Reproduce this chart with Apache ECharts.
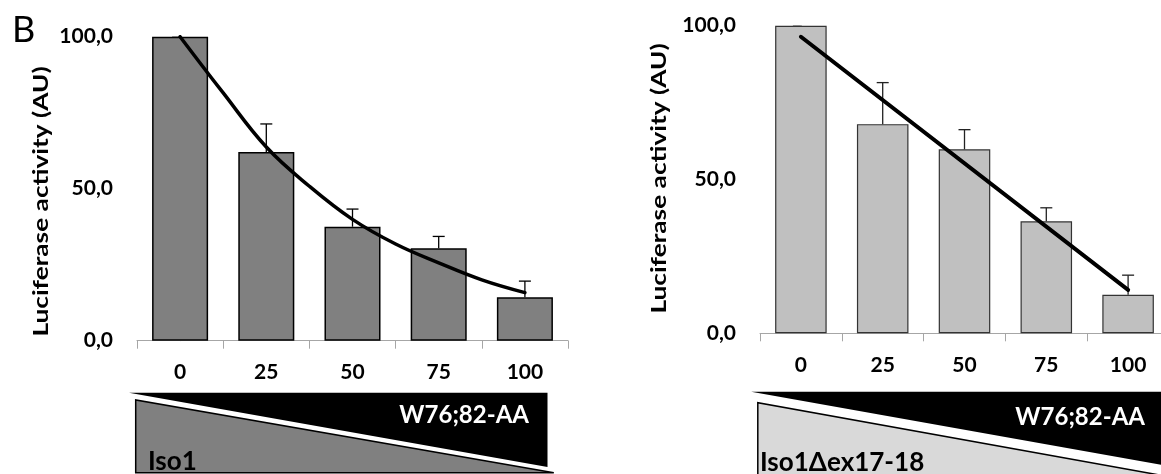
<!DOCTYPE html>
<html>
<head>
<meta charset="utf-8">
<script src="https://cdn.jsdelivr.net/npm/echarts@6/dist/echarts.min.js"></script>
<style>
    html, body { margin: 0; padding: 0; background: #fff; }
    #chart { width: 1161px; height: 474px; }
</style>
</head>
<body>
<div id="chart"></div>
<script>
// 剂量（x 轴类别）
const doses = ['0', '25', '50', '75', '100'];
const yTicks = [0, 50, 100];

// 左图 Iso1
const iso1Values = [100, 62.1, 37.5, 30.4, 14.3];
const iso1Errors = [0, 9.2, 5.8, 3.9, 5.3];
const iso1TrendDose = [0, 12.5, 25, 37.5, 50, 62.5, 75, 87.5, 100];
const iso1TrendValues = [100, 81.5, 63.7, 50.8, 39.9, 31.8, 25.6, 20.0, 15.8];

// 右图 Iso1Δex17-18
const deltaValues = [100, 68.0, 59.8, 36.4, 12.5];
const deltaErrors = [0, 13.5, 6.4, 4.4, 6.4];
const deltaTrendDose = [0, 100];
const deltaTrendValues = [96.4, 14.1];

const yTitle = 'Luciferase activity (AU)';

const FONT = 'Lato, "Open Sans", sans-serif';
const AXIS_GRAY = '#a6a6a6';

// 误差线（只画上半部分）
function errorBarSeries(axisIndex, values, errors, color) {
    return {
        type: 'custom',
        xAxisIndex: axisIndex * 2,
        yAxisIndex: axisIndex,
        data: values.map((v, i) => [i, v, v + errors[i]]),
        encode: { x: 0, y: [1, 2] },
        z: 4,
        renderItem: (params, api) => {
            if (api.value(2) <= api.value(1)) return null;
            const base = api.coord([api.value(0), api.value(1)]);
            const top = api.coord([api.value(0), api.value(2)]);
            const style = { stroke: color, lineWidth: 1.3 };
            return {
                type: 'group',
                children: [
                    { type: 'line', shape: { x1: base[0], y1: base[1], x2: top[0], y2: top[1] }, style },
                    { type: 'line', shape: { x1: top[0] - 6, y1: top[1], x2: top[0] + 6, y2: top[1] }, style }
                ]
            };
        }
    };
}

function catAxis(gridIndex) {
    return {
        type: 'category',
        gridIndex,
        data: doses,
        axisLine: { lineStyle: { color: AXIS_GRAY, width: 1 } },
        axisTick: { show: true, length: 8, interval: 0, lineStyle: { color: AXIS_GRAY } },
        axisLabel: { color: '#000', fontFamily: FONT, fontWeight: 'bold', fontSize: 21, margin: 21, interval: 0 },
        splitLine: { show: false }
    };
}

// 趋势线用的隐藏数值轴，类别中心对应剂量值
function doseAxis(gridIndex) {
    return {
        type: 'value',
        gridIndex,
        min: -12.5,
        max: 112.5,
        show: false
    };
}

function valAxis(gridIndex) {
    return {
        type: 'value',
        gridIndex,
        min: 0,
        max: 100,
        interval: 50,
        axisLine: { show: true, lineStyle: { color: AXIS_GRAY, width: 1 } },
        axisTick: { show: true, length: 8, lineStyle: { color: AXIS_GRAY } },
        axisLabel: {
            color: '#000', fontFamily: FONT, fontWeight: 'bold', fontSize: 21, margin: 24,
            formatter: v => yTicks.includes(v) ? v.toFixed(1).replace('.', ',') : ''
        },
        splitLine: { show: false }
    };
}

// 原图被纵向拉伸，竖排标题用 scaleX 拉长
function yTitleText(x, y) {
    return {
        type: 'text',
        x, y,
        rotation: Math.PI / 2,
        scaleX: 1.25,
        style: { text: yTitle, font: 'bold 21px ' + FONT, fill: '#000', align: 'center', verticalAlign: 'middle' }
    };
}

const chart = echarts.init(document.getElementById('chart'));

chart.setOption({
    animation: false,
    backgroundColor: '#fff',
    grid: [
        { left: 137, top: 36.7, width: 431, height: 304, outerBoundsMode: 'none' },
        { left: 760, top: 25.7, width: 409, height: 307.6, outerBoundsMode: 'none' }
    ],
    xAxis: [catAxis(0), doseAxis(0), catAxis(1), doseAxis(1)],
    yAxis: [valAxis(0), valAxis(1)],
    series: [
        {
            type: 'bar',
            xAxisIndex: 0,
            yAxisIndex: 0,
            data: iso1Values,
            barWidth: '65%',
            itemStyle: { color: '#808080', borderColor: '#000', borderWidth: 1.5 },
            z: 2
        },
        errorBarSeries(0, iso1Values, iso1Errors, '#000'),
        {
            type: 'line',
            xAxisIndex: 1,
            yAxisIndex: 0,
            data: iso1TrendDose.map((d, i) => [d, iso1TrendValues[i]]),
            smooth: 0.4,
            symbol: 'none',
            lineStyle: { color: '#000', width: 3.5, cap: 'round' },
            z: 5
        },
        {
            type: 'bar',
            xAxisIndex: 2,
            yAxisIndex: 1,
            data: deltaValues,
            barWidth: '63%',
            itemStyle: { color: '#c0c0c0', borderColor: '#333', borderWidth: 1.2 },
            z: 2
        },
        errorBarSeries(1, deltaValues, deltaErrors, '#222'),
        {
            type: 'line',
            xAxisIndex: 3,
            yAxisIndex: 1,
            data: deltaTrendDose.map((d, i) => [d, deltaTrendValues[i]]),
            symbol: 'none',
            lineStyle: { color: '#000', width: 4, cap: 'round' },
            z: 5
        }
    ],
    graphic: [
        // 面板标记
        { type: 'text', left: 12, top: 12, style: { text: 'B', font: '36px ' + FONT, fill: '#000' } },
        // 纵轴标题
        yTitleText(41.5, 201.5),
        yTitleText(659, 178.5),
        // 左侧楔形图
        { type: 'polygon', shape: { points: [[129, 392.7], [547.5, 392.7], [547.5, 467]] }, style: { fill: '#000' } },
        { type: 'polygon', shape: { points: [[135.7, 400], [135.7, 472.7], [553.8, 472.7]] }, style: { fill: '#808080', stroke: '#000', lineWidth: 1.5 } },
        { type: 'text', x: 529, y: 415.5, style: { text: 'W76;82-AA', font: 'bold 24px ' + FONT, fill: '#fff', align: 'right', verticalAlign: 'middle' } },
        { type: 'text', x: 148, y: 461.5, style: { text: 'Iso1', font: 'bold 26px ' + FONT, fill: '#000', align: 'left', verticalAlign: 'middle' } },
        // 右侧楔形图
        { type: 'polygon', shape: { points: [[751.2, 391.7], [1200, 391.7], [1200, 471.6]] }, style: { fill: '#000' } },
        { type: 'polygon', shape: { points: [[757.8, 402.7], [757.8, 478], [1200, 482.3]] }, style: { fill: '#d9d9d9', stroke: '#000', lineWidth: 1.5 } },
        { type: 'text', x: 1145, y: 417, style: { text: 'W76;82-AA', font: 'bold 24px ' + FONT, fill: '#fff', align: 'right', verticalAlign: 'middle' } },
        { type: 'text', x: 760, y: 463, style: { text: 'Iso1Δex17-18', font: 'bold 26px ' + FONT, fill: '#000', align: 'left', verticalAlign: 'middle' } }
    ]
});
</script>
</body>
</html>
